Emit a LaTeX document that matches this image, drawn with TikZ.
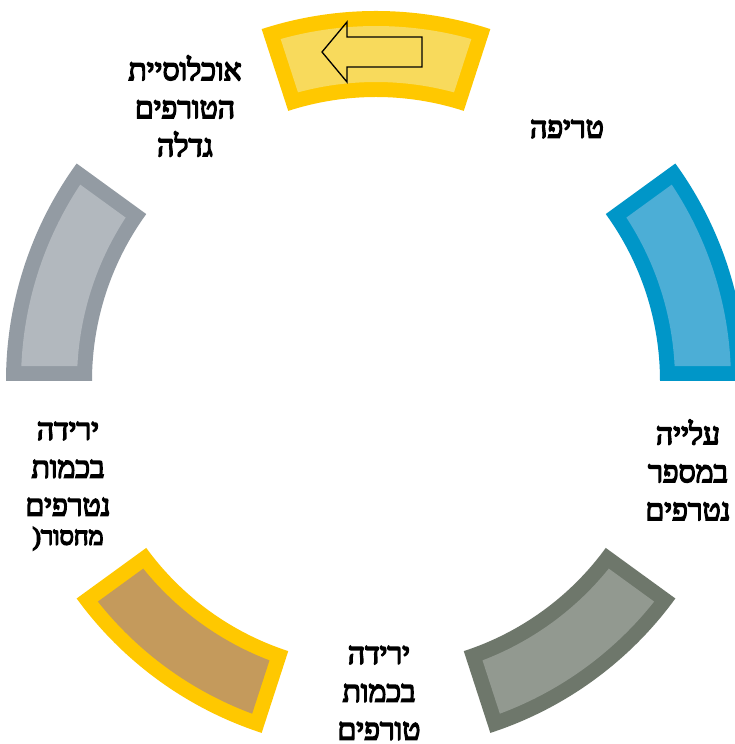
\documentclass[tikz,border=0pt]{standalone}
\usepackage{fontspec}
\TeXXeTstate=1
\newfontfamily\hebb[Script=Hebrew]{Liberation Serif}
\newcommand{\heavyon}{\special{pdf:literal 2 Tr 1.5 w}}
\newcommand{\heavyoff}{\special{pdf:literal 0 Tr}}
\definecolor{gold}{HTML}{FFC800}
\definecolor{goldin}{HTML}{F8DA5C}
\definecolor{blueb}{HTML}{0096C8}
\definecolor{bluein}{HTML}{4CAED6}
\definecolor{grayb}{HTML}{939BA3}
\definecolor{grayin}{HTML}{B2B8BE}
\definecolor{oliveb}{HTML}{6E776B}
\definecolor{olivein}{HTML}{929990}
\definecolor{brownin}{HTML}{C49A5C}
\newcommand{\ringseg}[4]{%
  \fill[#3] (#1:370) arc[start angle=#1,end angle=#2,radius=370] -- (#2:284) arc[start angle=#2,end angle=#1,radius=284] -- cycle;
  \fill[#4] ({#1+2.42}:355) arc[start angle={#1+2.42},end angle={#2-2.42},radius=355] -- ({#2-2.87}:299) arc[start angle={#2-2.87},end angle={#1+2.87},radius=299] -- cycle;}
\tikzset{lbl/.style={font=\hebb\fontsize{30}{38}\selectfont,align=center,inner sep=0pt,
  execute at begin node=\heavyon, execute at end node=\heavyoff}}
\begin{document}
\begin{tikzpicture}[x=1pt,y=1pt]
\useasboundingbox (0,0) rectangle (735,744);
\clip (0,0) rectangle (735,744);
\fill[white] (0,0) rectangle (735,744);
\begin{scope}[shift={(376,363)}]
  \ringseg{72}{108}{gold}{goldin}
  \ringseg{0}{36}{blueb}{bluein}
  \ringseg{-72}{-36}{oliveb}{olivein}
  \ringseg{-144}{-108}{gold}{brownin}
  \ringseg{144}{180}{grayb}{grayin}
\end{scope}
\draw[line width=1.3pt,line join=miter] (322,692) -- (347,722) -- (347,707) -- (422,707) -- (422,677) -- (347,677) -- (347,662) -- cycle;
\node[lbl] (pop) at (185,638) {\beginR אוכלוסיית\endR\\\beginR הטורפים\endR\\\beginR גדלה\endR};
\node[lbl] (pred) at (567,615) {\beginR טריפה\endR};
\node[lbl] (rise) at (688,274) {\beginR עלייה\endR\\\beginR במספר\endR\\\beginR נטרפים\endR};
\node[lbl] (fallp) at (379,51) {\beginR ירידה\endR\\\beginR בכמות\endR\\\beginR טורפים\endR};
\node[lbl] (fallq) at (68,258) {\beginR ירידה\endR\\\beginR בכמות\endR\\\beginR נטרפים\endR\\[-9pt]{\fontsize{25}{30}\selectfont\hbox{(}\hbox{\beginR מחסור\endR}}};
\end{tikzpicture}
\end{document}
